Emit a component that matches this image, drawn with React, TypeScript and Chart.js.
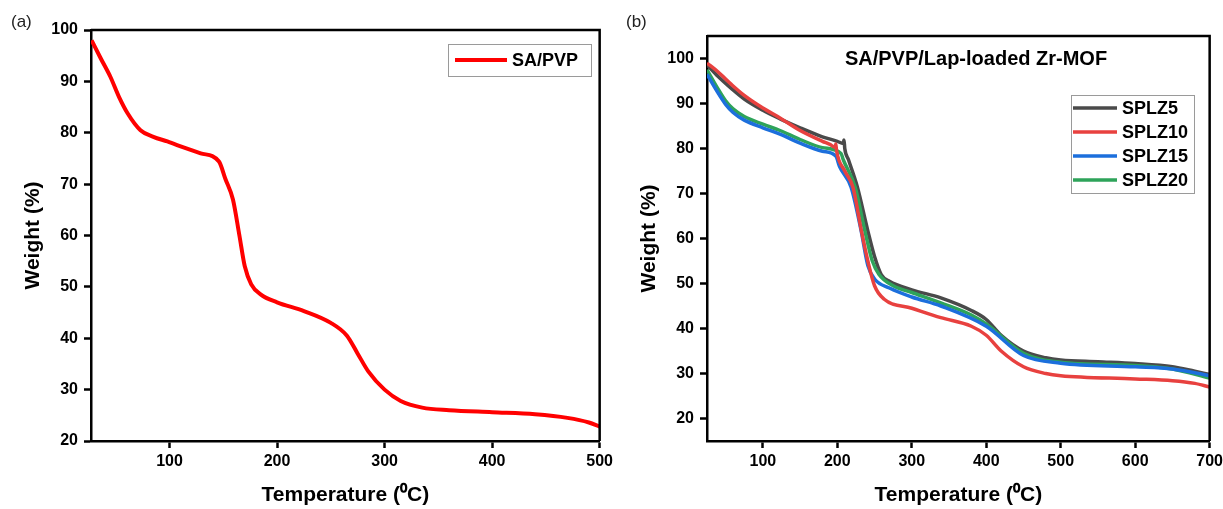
import React, { useEffect, useRef } from "react";
import { Chart, registerables } from "chart.js";

Chart.register(...registerables);

const FONT = "'Liberation Sans', Arial, Helvetica, sans-serif";

// ---------- Panel (a) data ----------
const saPvpTemp = [27.6, 36, 45, 53, 61, 73, 85, 98, 115, 129, 146, 152, 159, 165, 170, 176, 185, 200, 225, 250, 265, 275, 285, 300, 315, 335, 360, 400, 440, 470, 490, 500];
const saPvpWeight = [98, 94.5, 90.9, 87, 83.8, 80.5, 79.2, 78.3, 77, 76, 74.4, 71, 67, 60, 54, 50.5, 48.5, 47, 45.3, 43, 40.5, 37, 33.5, 30, 27.8, 26.5, 26, 25.6, 25.2, 24.5, 23.6, 22.8];
const leftXTicks = [100, 200, 300, 400, 500];
const leftYTicks = [20, 30, 40, 50, 60, 70, 80, 90, 100];

// ---------- Panel (b) data ----------
const seriesNames = ["SPLZ5", "SPLZ10", "SPLZ15", "SPLZ20"];
const seriesColors = ["#4a4a4a", "#e8413f", "#1c6fdc", "#2ea35a"];

const splz5Temp = [25, 40, 58, 75, 100, 123, 150, 180, 200, 208, 209, 210, 215, 227, 241, 250, 259, 270, 300, 339, 380, 400, 420, 450, 480, 500, 550, 600, 650, 680, 700];
const splz5Weight = [98.6, 96, 93.3, 91, 88.5, 86.6, 84.6, 82.6, 81.6, 81.1, 81.9, 80.0, 77.5, 71.4, 61.7, 56, 52, 50.5, 48.6, 46.8, 44, 42, 38.5, 35, 33.5, 33, 32.6, 32.2, 31.5, 30.5, 29.8];

const splz10Temp = [25, 40, 58, 75, 100, 123, 150, 180, 190, 197, 198, 199, 210, 221, 232, 241, 250, 263, 300, 339, 380, 400, 420, 450, 480, 500, 600, 650, 680, 700];
const splz10Weight = [99, 97, 94.2, 91.8, 89, 86.8, 84, 81.6, 80.9, 80.3, 81.0, 79.5, 75, 71.4, 62, 55, 49.5, 46.5, 44.5, 42.4, 40.5, 38.5, 35, 31.5, 30, 29.5, 28.8, 28.4, 27.8, 27];

const splz15Temp = [25, 40, 50, 60, 75, 100, 123, 150, 180, 198, 203, 218.5, 232, 241, 250, 270, 300, 339, 400, 450, 500, 600, 650, 700];
const splz15Weight = [96.5, 92.3, 89.8, 88, 86.3, 84.6, 83.2, 81.2, 79.4, 78.3, 76, 71.4, 61.7, 54, 51, 49, 47, 45, 40.5, 34, 32.3, 31.5, 31, 29.5];

const splz20Temp = [25, 40, 50, 60, 75, 100, 123, 150, 180, 205, 208, 224, 237, 247, 256, 275, 300, 339, 380, 400, 450, 500, 600, 650, 700];
const splz20Weight = [97.5, 93.2, 90.6, 88.8, 87.1, 85.4, 84, 82, 80.2, 78.9, 77.5, 71.4, 61.7, 55, 52, 49.5, 48, 45.7, 43, 41, 34.5, 32.5, 31.8, 31, 29];

const rightXTicks = [100, 200, 300, 400, 500, 600, 700];
const rightYTicks = [20, 30, 40, 50, 60, 70, 80, 90, 100];

function toPoints(xs: number[], ys: number[]) {
  return xs.map((x, i) => ({ x, y: ys[i] }));
}

function axisCommon(ticks: number[], min: number, max: number, title: string, isY: boolean, fit: number, titlePad: number) {
  return {
    type: "linear" as const,
    min,
    max,
    afterBuildTicks: (scale: any) => {
      scale.ticks = ticks.map((v) => ({ value: v }));
    },
    afterFit: (scale: any) => {
      if (isY) scale.width = fit;
      else scale.height = fit;
    },
    border: { display: true, color: "#000", width: 2.5 },
    grid: {
      display: true,
      drawOnChartArea: false,
      drawTicks: true,
      tickLength: 7,
      tickWidth: 2.5,
      tickColor: "#000",
    },
    ticks: {
      color: "#000",
      padding: isY ? 6 : 4,
      font: { family: FONT, size: 16, weight: "bold" as const },
    },
    title: {
      display: true,
      text: title,
      color: "#000",
      font: { family: FONT, size: 21, weight: "bold" as const },
      padding: isY ? { top: titlePad, bottom: 0 } : { top: 0, bottom: titlePad },
    },
  };
}

type Extra = {
  label: string;
  labelX: number;
  inTitle?: { text: string; x: number; y: number };
  legend: { box: [number, number, number, number]; lineX: [number, number]; textX: number; rowY: number[]; names: string[]; colors: string[]; lineW: number };
};

function makeDecorPlugin(extra: Extra) {
  return {
    id: "decor",
    afterDraw(chart: any) {
      const ctx = chart.ctx as CanvasRenderingContext2D;
      const ca = chart.chartArea;
      ctx.save();
      ctx.strokeStyle = "#000";
      ctx.lineWidth = 2.5;
      ctx.beginPath();
      ctx.moveTo(ca.left, ca.top);
      ctx.lineTo(ca.right, ca.top);
      ctx.lineTo(ca.right, ca.bottom);
      ctx.stroke();
      ctx.fillStyle = "#222";
      ctx.font = `17px ${FONT}`;
      ctx.textAlign = "left";
      ctx.textBaseline = "middle";
      ctx.fillText(extra.label, extra.labelX, 22);
      if (extra.inTitle) {
        ctx.fillStyle = "#000";
        ctx.font = `bold 20px ${FONT}`;
        ctx.textAlign = "center";
        ctx.fillText(extra.inTitle.text, extra.inTitle.x, extra.inTitle.y);
      }
      const lg = extra.legend;
      const [bx0, by0, bx1, by1] = lg.box;
      ctx.fillStyle = "#fff";
      ctx.fillRect(bx0, by0, bx1 - bx0, by1 - by0);
      ctx.strokeStyle = "#9a9a9a";
      ctx.lineWidth = 1;
      ctx.strokeRect(bx0 + 0.5, by0 + 0.5, bx1 - bx0, by1 - by0);
      ctx.font = `bold 18px ${FONT}`;
      ctx.textAlign = "left";
      ctx.textBaseline = "middle";
      lg.names.forEach((n, i) => {
        const y = lg.rowY[i];
        ctx.strokeStyle = lg.colors[i];
        ctx.lineWidth = lg.lineW;
        ctx.beginPath();
        ctx.moveTo(lg.lineX[0], y);
        ctx.lineTo(lg.lineX[1], y);
        ctx.stroke();
        ctx.fillStyle = "#000";
        ctx.fillText(n, lg.textX, y + 1);
      });
      ctx.restore();
    },
  };
}

function LeftChart() {
  const ref = useRef<HTMLCanvasElement>(null);
  useEffect(() => {
    const chart = new Chart(ref.current!, {
      type: "line",
      data: {
        datasets: [
          {
            label: "SA/PVP",
            data: toPoints(saPvpTemp, saPvpWeight),
            borderColor: "#ff0000",
            borderWidth: 4,
            pointRadius: 0,
            cubicInterpolationMode: "monotone",
          },
        ],
      },
      options: {
        animation: false,
        responsive: false,
        parsing: false as any,
        layout: { padding: { left: 0, right: 14, top: 30, bottom: 0 } },
        plugins: { legend: { display: false }, tooltip: { enabled: false } },
        scales: {
          x: axisCommon(leftXTicks, 27, 500, "Temperature (\u2070C)", false, 68, 1) as any,
          y: axisCommon(leftYTicks, 20, 100, "Weight (%)", true, 91, 21) as any,
        },
      },
      plugins: [
        makeDecorPlugin({
          label: "(a)",
          labelX: 11,
          legend: {
            box: [448, 44, 591, 76],
            lineX: [455, 507],
            textX: 512,
            rowY: [60],
            names: ["SA/PVP"],
            colors: ["#ff0000"],
            lineW: 4,
          },
        }),
      ],
    });
    return () => chart.destroy();
  }, []);
  return <canvas ref={ref} width={617} height={509} style={{ position: "absolute", left: 0, top: 0, width: 617, height: 509 }} />;
}

function RightChart() {
  const ref = useRef<HTMLCanvasElement>(null);
  useEffect(() => {
    const xs = [splz5Temp, splz10Temp, splz15Temp, splz20Temp];
    const ys = [splz5Weight, splz10Weight, splz15Weight, splz20Weight];
    const order = [1, 2, 3, 0];
    const chart = new Chart(ref.current!, {
      type: "line",
      data: {
        datasets: order.map((i) => ({
          label: seriesNames[i],
          data: toPoints(xs[i], ys[i]),
          borderColor: seriesColors[i],
          borderWidth: 3.5,
          pointRadius: 0,
          cubicInterpolationMode: "monotone" as const,
        })),
      },
      options: {
        animation: false,
        responsive: false,
        parsing: false as any,
        layout: { padding: { left: 0, right: 14, top: 36, bottom: 0 } },
        plugins: { legend: { display: false }, tooltip: { enabled: false } },
        scales: {
          x: axisCommon(rightXTicks, 25, 700, "Temperature (\u2070C)", false, 68, 1) as any,
          y: axisCommon(rightYTicks, 15, 105, "Weight (%)", true, 95, 25) as any,
        },
      },
      plugins: [
        makeDecorPlugin({
          label: "(b)",
          labelX: 14,
          inTitle: { text: "SA/PVP/Lap-loaded Zr-MOF", x: 364, y: 59 },
          legend: {
            box: [459, 95, 582, 193],
            lineX: [461, 505],
            textX: 510,
            rowY: [108, 132, 156, 180],
            names: seriesNames,
            colors: seriesColors,
            lineW: 3.5,
          },
        }),
      ],
    });
    return () => chart.destroy();
  }, []);
  return <canvas ref={ref} width={615} height={509} style={{ position: "absolute", left: 612, top: 0, width: 615, height: 509 }} />;
}

export default function App() {
  return (
    <div style={{ position: "absolute", left: 0, top: 0, width: 1223, height: 509, background: "#fff", overflow: "hidden" }}>
      <LeftChart />
      <RightChart />
    </div>
  );
}
